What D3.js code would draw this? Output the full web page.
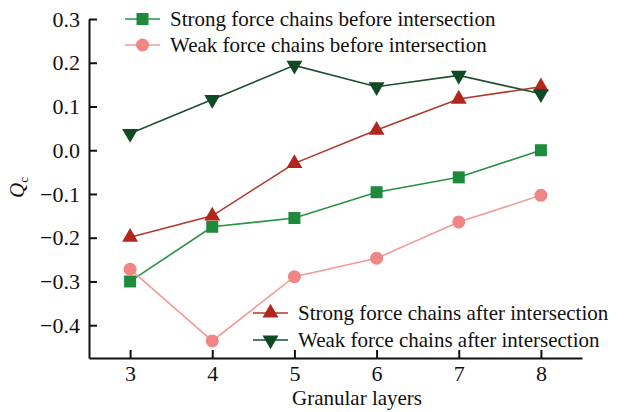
<!DOCTYPE html>
<html>
<head>
<meta charset="utf-8">
<script src="https://cdn.jsdelivr.net/npm/d3@7"></script>
</head>
<body style="margin:0">
<svg id="chart" width="630" height="412"></svg>
<script>
// Granular layers on the x axis
const layers = [3, 4, 5, 6, 7, 8];
// Q_c values per series
const strongBefore = [-0.300, -0.175, -0.155, -0.096, -0.062, 0.000];
const weakBefore   = [-0.272, -0.436, -0.289, -0.247, -0.164, -0.103];
const strongAfter  = [-0.199, -0.150, -0.030, 0.046, 0.117, 0.145];
const weakAfter    = [0.038, 0.116, 0.194, 0.145, 0.171, 0.129];
const yTicks = [-0.4, -0.3, -0.2, -0.1, 0.0, 0.1, 0.2, 0.3];
const seriesNames = [
  "Strong force chains before intersection",
  "Weak force chains before intersection",
  "Strong force chains after intersection",
  "Weak force chains after intersection"
];

const series = [
  { name: seriesNames[0], values: strongBefore, line: "#2a9147", fill: "#1e8a3c", symbol: "square" },
  { name: seriesNames[1], values: weakBefore,   line: "#f29a9a", fill: "#ef8585", symbol: "circle" },
  { name: seriesNames[2], values: strongAfter,  line: "#b0382a", fill: "#b3261c", symbol: "up" },
  { name: seriesNames[3], values: weakAfter,    line: "#1d4f30", fill: "#0f4a24", symbol: "down" }
];

const FONT = "\"Liberation Serif\", \"Times New Roman\"";
const svg = d3.select("#chart");
const plotLeft = 89, plotRight = 582, plotTop = 19, plotBottom = 358;

const x = d3.scaleLinear().domain([2.5, 8.5]).range([plotLeft, plotRight]);
const y = d3.scaleLinear().domain([-0.475, 0.3]).range([plotBottom, plotTop]);

const fmt = v => (v < 0 ? "\u2212" : "") + Math.abs(v).toFixed(1);

// Serif text helper
const serif = (sel, size) => sel
  .attr("font-family", FONT).attr("font-size", size)
  .style("font-family", FONT, "important").style("font-size", size + "px", "important");

// Axes with inward ticks
const yAxis = d3.axisLeft(y).tickValues(yTicks).tickSizeInner(-8).tickSizeOuter(0).tickPadding(9).tickFormat(fmt);
const xAxis = d3.axisBottom(x).tickValues(layers).tickSizeInner(-8).tickSizeOuter(0).tickPadding(7).tickFormat(d3.format("d"));

const gy = svg.append("g").attr("transform", `translate(${plotLeft},0)`).call(yAxis);
const gx = svg.append("g").attr("transform", `translate(0,${plotBottom})`).call(xAxis);

[gy, gx].forEach(g => {
  g.attr("font-family", FONT);
  g.select(".domain").attr("stroke", "#111").attr("stroke-width", 2);
  g.selectAll(".tick line").attr("stroke", "#111").attr("stroke-width", 2);
  serif(g.selectAll(".tick text").attr("fill", "#111"), 22);
});
gx.selectAll(".tick text").attr("dy", "0.71em");

// Axis titles
serif(svg.append("text")
  .attr("x", x(5.75) + 1).attr("y", 405)
  .attr("text-anchor", "middle")
  .attr("fill", "#111")
  .text("Granular layers"), 21);

const yl = serif(svg.append("text")
  .attr("transform", `translate(24,${y(-0.085)}) rotate(-90)`)
  .attr("text-anchor", "middle")
  .attr("fill", "#111"), 21);
yl.append("tspan").style("font-style", "italic").text("Q");
yl.append("tspan").attr("dy", 4).style("font-size", "13px", "important").text("c");

// Marker drawing
function drawMarker(g, s, cx, cy) {
  if (s.symbol === "square") {
    g.append("rect").attr("x", cx - 6).attr("y", cy - 6).attr("width", 12).attr("height", 12)
      .attr("fill", s.fill);
  } else if (s.symbol === "circle") {
    g.append("circle").attr("cx", cx).attr("cy", cy).attr("r", 6.5).attr("fill", s.fill);
  } else {
    const sym = d3.symbol().type(d3.symbolTriangle).size(110);
    g.append("path").attr("d", sym())
      .attr("transform", `translate(${cx},${cy}) rotate(${s.symbol === "down" ? 180 : 0})`)
      .attr("fill", s.fill);
  }
}

const line = d3.line().x((d, i) => x(layers[i])).y(d => y(d));

series.forEach(s => {
  const g = svg.append("g");
  g.append("path").datum(s.values).attr("d", line)
    .attr("fill", "none").attr("stroke", s.line).attr("stroke-width", 1.6);
  s.values.forEach((v, i) => drawMarker(g, s, x(layers[i]), y(v)));
});

// Legends
const legendPos = [
  { lx: 125, ty: 19 },
  { lx: 125, ty: 45 },
  { lx: 253, ty: 313 },
  { lx: 253, ty: 340 }
];
series.forEach((s, i) => {
  const p = legendPos[i];
  const g = svg.append("g");
  g.append("line").attr("x1", p.lx).attr("x2", p.lx + 35).attr("y1", p.ty).attr("y2", p.ty)
    .attr("stroke", s.line).attr("stroke-width", 1.6);
  drawMarker(g, s, p.lx + 17.5, p.ty);
  serif(g.append("text").attr("x", p.lx + 45).attr("y", p.ty).attr("dy", "0.33em")
    .attr("fill", "#111").text(s.name), 21);
});
</script>
</body>
</html>
